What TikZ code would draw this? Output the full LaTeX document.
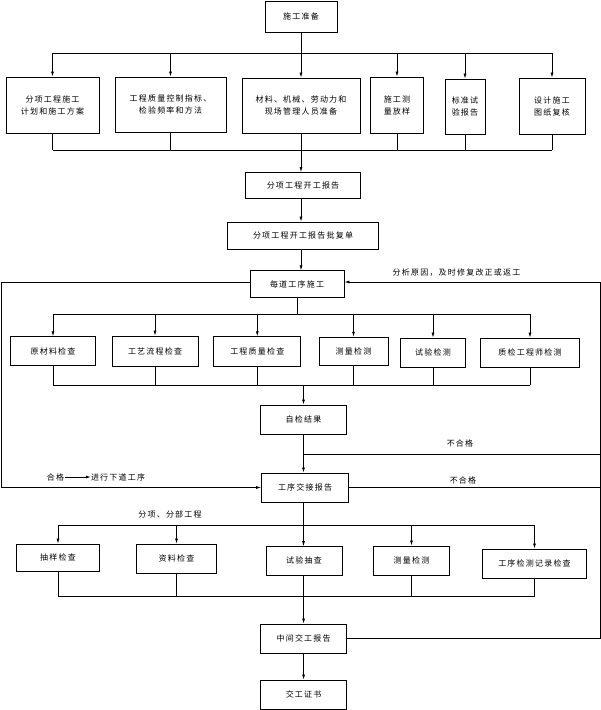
\documentclass[tikz,border=0pt]{standalone}
\usepackage{fontspec}
\newfontfamily\cjk[LetterSpace=15]{Noto Sans CJK SC}
\usetikzlibrary{arrows.meta}
\begin{document}
\begin{tikzpicture}[x=1pt,y=-1pt,
  box/.style={draw,line width=0.9pt,inner sep=0pt,align=center,font=\cjk\fontsize{8}{12}\selectfont},
  lbl/.style={inner sep=0pt,font=\cjk\fontsize{8}{12}\selectfont},
  ln/.style={line width=0.7pt},
  arr/.style={line width=0.7pt,-{Latex[length=5pt,width=3pt]}}]
\useasboundingbox (0,0) rectangle (601,710);
% nodes
\node[box,minimum width=72pt,minimum height=31pt] (prep) at (301,16.5) {施工准备};
\node[box,minimum width=93pt,minimum height=56pt] (a1) at (52.5,105) {分项工程施工\\计划和施工方案};
\node[box,minimum width=111pt,minimum height=55pt] (a2) at (170.5,104.5) {工程质量控制指标、\\检验频率和方法};
\node[box,minimum width=118pt,minimum height=55pt] (a3) at (301,105.5) {材料、机械、劳动力和\\现场管理人员准备};
\node[box,minimum width=53pt,minimum height=56pt] (a4) at (397,105) {施工测\\量放样};
\node[box,minimum width=40pt,minimum height=55pt] (a5) at (465,106.5) {标准试\\验报告};
\node[box,minimum width=66pt,minimum height=56pt] (a6) at (552,106) {设计施工\\图纸复核};
\node[box,minimum width=115pt,minimum height=26pt] (b1) at (303,185.5) {分项工程开工报告};
\node[box,minimum width=151pt,minimum height=27pt] (b2) at (303,235.5) {分项工程开工报告批复单};
\node[box,minimum width=94pt,minimum height=27pt] (c) at (297,284.3) {每道工序施工};
\node[box,minimum width=85pt,minimum height=29pt] (d1) at (53,351.2) {原材料检查};
\node[box,minimum width=86pt,minimum height=30pt] (d2) at (155,351) {工艺流程检查};
\node[box,minimum width=87pt,minimum height=30pt] (d3) at (257.3,351.7) {工程质量检查};
\node[box,minimum width=69pt,minimum height=28pt] (d4) at (353.5,351.2) {测量检测};
\node[box,minimum width=65.5pt,minimum height=29pt] (d5) at (433,352.5) {试验检测};
\node[box,minimum width=99.5pt,minimum height=29pt] (d6) at (530,352.5) {质检工程师检测};
\node[box,minimum width=85.5pt,minimum height=29pt] (e) at (303.5,419.5) {自检结果};
\node[box,minimum width=87pt,minimum height=29pt] (f) at (305,487.5) {工序交接报告};
\node[box,minimum width=83.6pt,minimum height=27pt] (g1) at (58,557.5) {抽样检查};
\node[box,minimum width=79.7pt,minimum height=29.7pt] (g2) at (176.5,558.9) {资料检查};
\node[box,minimum width=76pt,minimum height=28.3pt] (g3) at (304,560.8) {试验抽查};
\node[box,minimum width=76pt,minimum height=29pt] (g4) at (411.5,560.5) {测量检测};
\node[box,minimum width=104pt,minimum height=29pt] (g5) at (534.5,563.5) {工序检测记录检查};
\node[box,minimum width=86pt,minimum height=29pt] (h) at (303.6,638.5) {中间交工报告};
\node[box,minimum width=86pt,minimum height=29pt] (i) at (303.6,694.5) {交工证书};
% labels
\node[lbl] (t1) at (456.5,273) {分析原因，及时修复改正或返工};
\node[lbl] (t2) at (460,443) {不合格};
\node[lbl] (t3) at (463,480) {不合格};
\node[lbl] (hg) at (55.5,477) {合格};
\node[lbl] (jx) at (118,477) {进行下道工序};
\node[lbl] (t4) at (170,514) {分项、分部工程};
% helper coordinates
\coordinate (bus1) at (0,53);
\coordinate (bot1) at (0,150);
\coordinate (bus2) at (0,314);
\coordinate (bot2) at (0,385);
\coordinate (bus3) at (0,525);
\coordinate (bot3) at (0,596);
\coordinate (L) at (1,0);
\coordinate (R) at (600,0);
\coordinate (J) at (303.5,454);
% top fan-out
\draw[ln] (prep.south) -- (prep.south |- bus1);
\draw[ln] (a1.north |- bus1) -- (a6.north |- bus1);
\foreach \n in {a1,a2,a3,a4,a5,a6}{
  \draw[arr] (\n.north |- bus1) -- (\n.north);
  \draw[ln] (\n.south) -- (\n.south |- bot1);
}
\draw[ln] (a1.south |- bot1) -- (a6.south |- bot1);
\draw[arr] (a3.south |- bot1) -- (b1.north -| a3.south);
\draw[arr] (b1.south -| a3.south) -- (b2.north -| a3.south);
\draw[arr] (b2.south -| a3.south) -- (c.north -| a3.south);
% second fan
\draw[ln] (c.south) -- (c.south |- bus2);
\draw[ln] (d1.north |- bus2) -- (d6.north |- bus2);
\foreach \n in {d1,d2,d3,d4,d5,d6}{
  \draw[arr] (\n.north |- bus2) -- (\n.north);
  \draw[ln] (\n.south) -- (\n.south |- bot2);
}
\draw[ln] (d1.south |- bot2) -- (d6.south |- bot2);
\draw[arr] (e.north |- bot2) -- (e.north);
\draw[arr] (e.south) -- (f.north -| e.south);
\draw[ln] (J) -- (J -| R);
% loops
\draw[arr] (c.west |- 0,282) -- (L |- 0,282) -- (L |- f.west) -- (f.west);
\draw[arr] (h.east) -- (h.east -| R) -- (R |- 0,282) -- (c.east |- 0,282);
\draw[ln] (f.east) -- (f.east -| R);
\draw[arr] (hg.east) ++(1,0) -- (jx.west);
% third fan
\draw[ln] (f.south -| e.south) -- (e.south |- bus3);
\draw[ln] (g1.north |- bus3) -- (g5.north |- bus3);
\foreach \n in {g1,g2,g4,g5}{
  \draw[arr] (\n.north |- bus3) -- (\n.north);
  \draw[ln] (\n.south) -- (\n.south |- bot3);
}
\draw[arr] (e.south |- bus3) -- (g3.north -| e.south);
\draw[ln] (g3.south -| e.south) -- (e.south |- bot3);
\draw[ln] (g1.south |- bot3) -- (g5.south |- bot3);
\draw[arr] (e.south |- bot3) -- (h.north);
\draw[arr] (h.south) -- (i.north);
\end{tikzpicture}
\end{document}
